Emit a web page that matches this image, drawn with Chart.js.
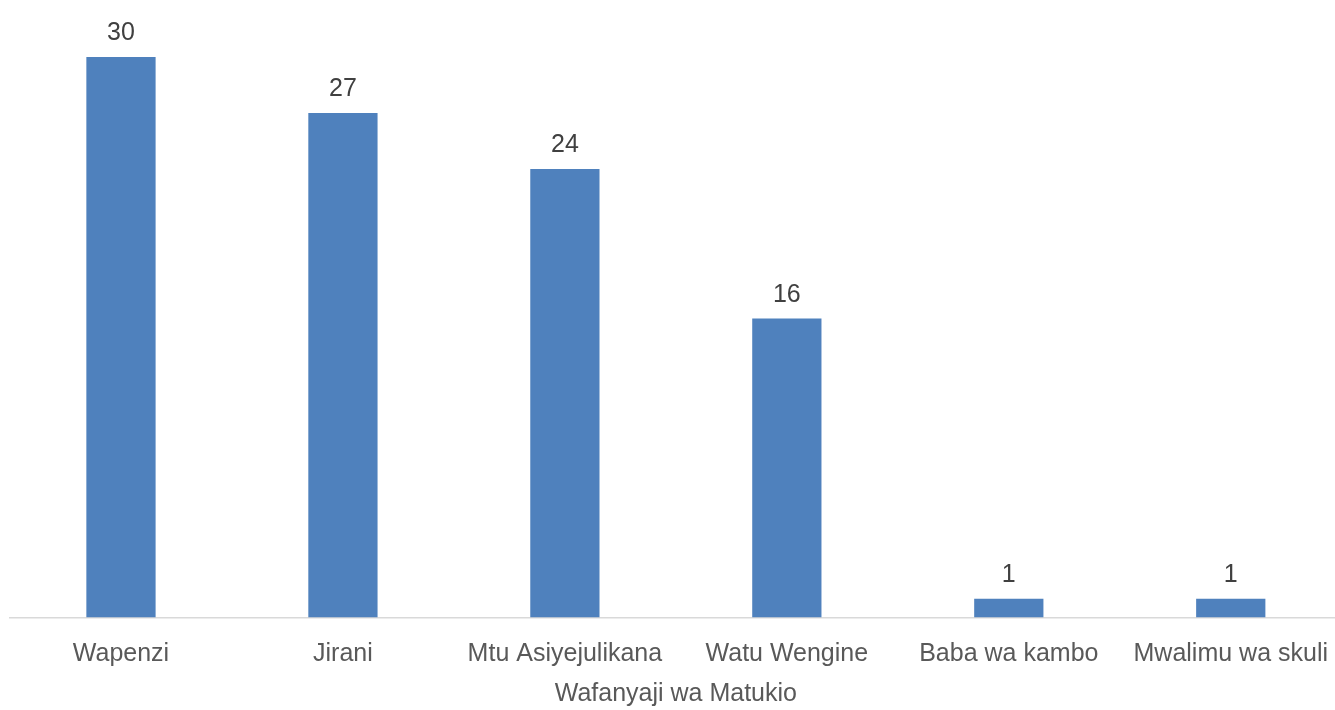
<!DOCTYPE html>
<html>
<head>
<meta charset="utf-8">
<script src="https://cdn.jsdelivr.net/npm/chart.js@4/dist/chart.umd.min.js"></script>
<style>
  html, body { margin: 0; padding: 0; background: #fff; overflow: hidden; }
  #wrap { width: 1335px; height: 710px; overflow: hidden; }
</style>
</head>
<body>
<div id="wrap"><canvas id="chart" width="1350" height="710"></canvas></div>
<script>
const categories = ['Wapenzi', 'Jirani', 'Mtu Asiyejulikana', 'Watu Wengine', 'Baba wa kambo', 'Mwalimu wa skuli'];
const counts = [30, 27, 24, 16, 1, 1];
const axisTitle = 'Wafanyaji wa Matukio';

// no narrow face installed, so a slightly smaller Liberation Sans stands in
const fontFamily = '"Liberation Sans Narrow", "Arial Narrow", "Liberation Sans", Arial, sans-serif';
const fontSize = 25;

const valueLabels = {
    id: 'valueLabels',
    afterDatasetsDraw: function(chart) {
        const ctx = chart.ctx;
        const meta = chart.getDatasetMeta(0);
        ctx.save();
        ctx.font = fontSize + 'px ' + fontFamily;
        ctx.fillStyle = '#404040';
        ctx.textAlign = 'center';
        ctx.textBaseline = 'alphabetic';
        meta.data.forEach(function(bar, i) {
            ctx.fillText(String(counts[i]), bar.x, bar.y - 17);
        });
        ctx.restore();
    }
};

new Chart(document.getElementById('chart').getContext('2d'), {
    type: 'bar',
    data: {
        labels: categories,
        datasets: [{
            data: counts,
            backgroundColor: '#4f81bd',
            borderWidth: 0,
            categoryPercentage: 1,
            barPercentage: 0.312
        }]
    },
    options: {
        responsive: false,
        animation: false,
        layout: { padding: { top: 57, left: 10, right: 0, bottom: 0 } },
        plugins: {
            legend: { display: false },
            tooltip: { enabled: false }
        },
        scales: {
            y: {
                display: false,
                min: 0,
                max: 30
            },
            x: {
                grid: { display: false, drawTicks: false },
                border: { display: true, color: '#d9d9d9', width: 1.5 },
                ticks: {
                    color: '#595959',
                    font: { family: fontFamily, size: fontSize },
                    padding: 22,
                    maxRotation: 0,
                    autoSkip: false
                },
                title: {
                    display: true,
                    text: axisTitle,
                    color: '#595959',
                    font: { family: fontFamily, size: fontSize },
                    padding: { top: -12.5, bottom: 1 }
                }
            }
        }
    },
    plugins: [valueLabels]
});
</script>
</body>
</html>
